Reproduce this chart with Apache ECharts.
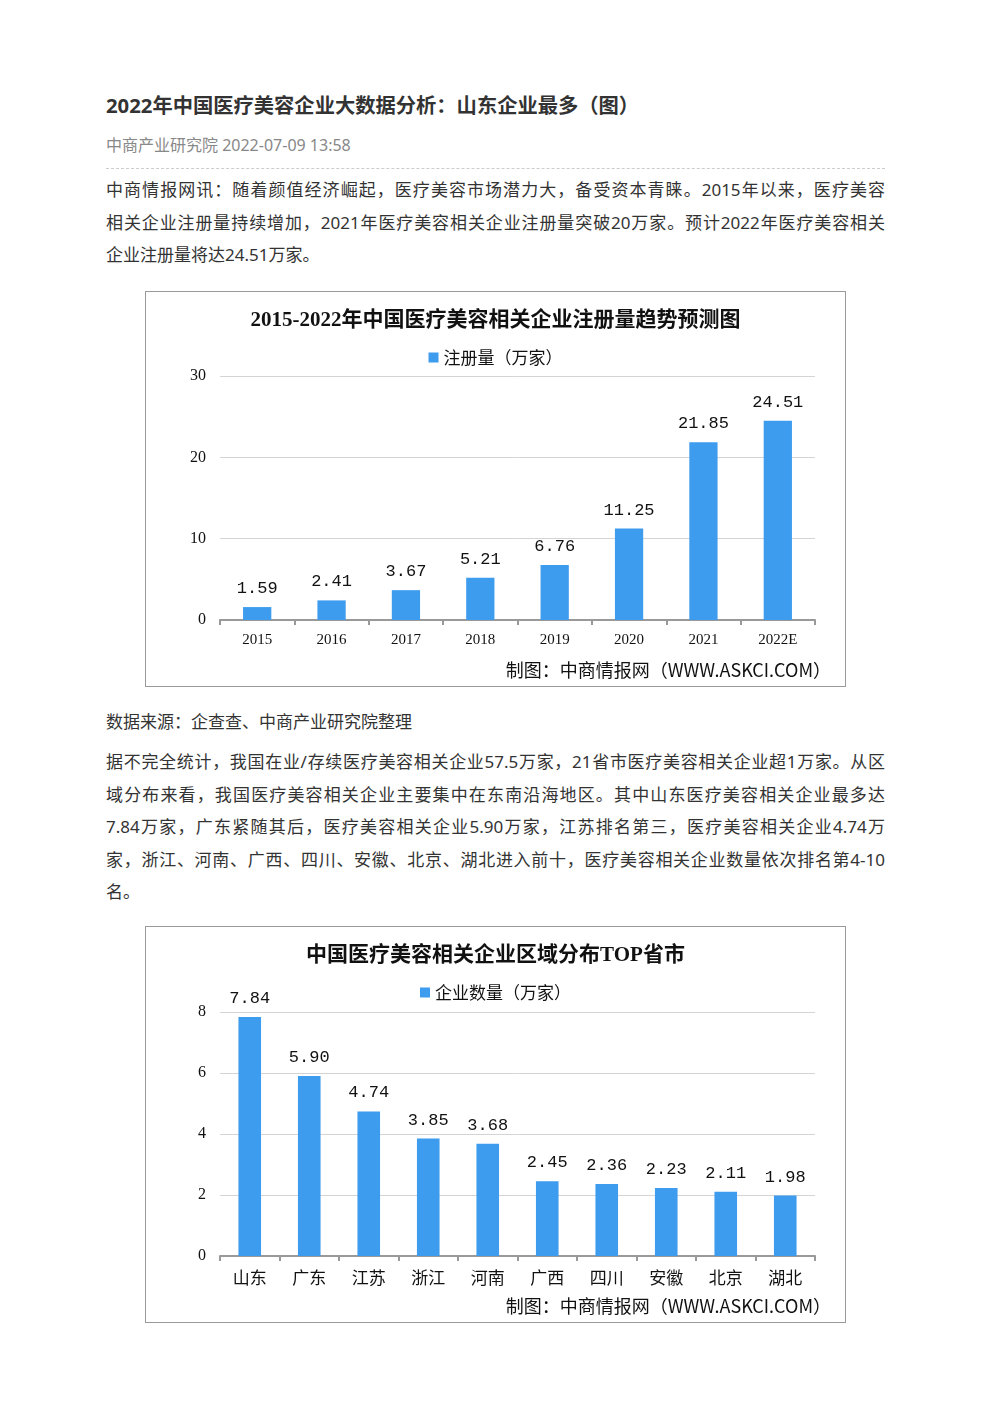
<!DOCTYPE html>
<html>
<head>
<meta charset="utf-8">
<title>2022年中国医疗美容企业大数据分析</title>
<script src="https://cdn.jsdelivr.net/npm/echarts@6/dist/echarts.min.js"></script>
<style>
  html, body { margin: 0; padding: 0; background: #fff; }
  body { width: 992px; height: 1403px; position: relative; font-family: "Noto Sans", "Noto Sans CJK SC", sans-serif; color: #333; }
  .abs { position: absolute; left: 106px; width: 779px; }
  h1 { margin: 0; font-size: 20.3px; line-height: 30px; font-weight: bold; color: #333; top: 90px; }
  .meta { top: 135px; font-size: 16px; line-height: 20px; color: #888; }
  .rule { top: 168px; height: 0; border-top: 1px dashed #ccc; }
  .para { font-size: 17px; line-height: 32.6px; margin: 0; }
  .para span { display: block; text-align: justify; text-align-last: justify; white-space: nowrap; }
  .para span.last { text-align-last: left; }
  .box { position: absolute; left: 145px; width: 699px; border: 1px solid #9a9a9a; }
</style>
</head>
<body>
<h1 class="abs">2022年中国医疗美容企业大数据分析：山东企业最多（图）</h1>
<div class="abs meta">中商产业研究院 2022-07-09 13:58</div>
<div class="abs rule"></div>
<p class="abs para" style="top:174px">
  <span>中商情报网讯：随着颜值经济崛起，医疗美容市场潜力大，备受资本青睐。2015年以来，医疗美容</span>
  <span>相关企业注册量持续增加，2021年医疗美容相关企业注册量突破20万家。预计2022年医疗美容相关</span>
  <span class="last">企业注册量将达24.51万家。</span>
</p>
<div class="box" id="chart1" style="top:291px;height:394px"></div>
<p class="abs para" style="top:706px"><span class="last">数据来源：企查查、中商产业研究院整理</span></p>
<p class="abs para" style="top:746px">
  <span>据不完全统计，我国在业/存续医疗美容相关企业57.5万家，21省市医疗美容相关企业超1万家。从区</span>
  <span>域分布来看，我国医疗美容相关企业主要集中在东南沿海地区。其中山东医疗美容相关企业最多达</span>
  <span>7.84万家，广东紧随其后，医疗美容相关企业5.90万家，江苏排名第三，医疗美容相关企业4.74万</span>
  <span>家，浙江、河南、广西、四川、安徽、北京、湖北进入前十，医疗美容相关企业数量依次排名第4-10</span>
  <span class="last">名。</span>
</p>
<div class="box" id="chart2" style="top:926px;height:395px"></div>

<script>
// 图1：注册量趋势
var years = ['2015', '2016', '2017', '2018', '2019', '2020', '2021', '2022E'];
var regCounts = [1.59, 2.41, 3.67, 5.21, 6.76, 11.25, 21.85, 24.51];
var yTicks1 = [0, 10, 20, 30];

// 图2：区域分布
var provinces = ['山东', '广东', '江苏', '浙江', '河南', '广西', '四川', '安徽', '北京', '湖北'];
var provCounts = [7.84, 5.90, 4.74, 3.85, 3.68, 2.45, 2.36, 2.23, 2.11, 1.98];
var yTicks2 = [0, 2, 4, 6, 8];

var barColor = '#3d9cee';
var serif = '"Liberation Serif", "Noto Sans CJK SC", serif';

function makeOption(title, legendName, cats, vals, ticks, xFont, xMargin, gridTop) {
	var step = ticks[1] - ticks[0];
	return {
		animation: false,
		title: {
			text: title,
			left: 'center',
			top: 13,
			textStyle: { fontFamily: serif, fontSize: 21, fontWeight: 'bold', color: '#111' }
		},
		legend: {
			data: [legendName],
			left: 'center',
			top: 52,
			itemWidth: 10,
			itemHeight: 10,
			icon: 'rect',
			itemGap: 4,
			textStyle: { fontFamily: '"Noto Sans CJK SC", sans-serif', fontSize: 17, color: '#111' }
		},
		grid: { left: 74, right: 30, top: gridTop, bottom: 66, containLabel: false },
		xAxis: {
			type: 'category',
			data: cats,
			axisLine: { lineStyle: { color: '#999', width: 2 } },
			axisTick: { show: true, alignWithLabel: false, length: 5, lineStyle: { color: '#999', width: 2 } },
			axisLabel: { color: '#111', fontFamily: serif, fontSize: xFont, margin: xMargin }
		},
		yAxis: {
			type: 'value',
			min: ticks[0],
			max: ticks[ticks.length - 1],
			interval: step,
			axisLine: { show: false },
			axisTick: { show: false },
			axisLabel: { color: '#111', fontFamily: serif, fontSize: 16, margin: 14 },
			splitLine: { lineStyle: { color: '#d4d4d4', width: 1 } }
		},
		series: [{
			name: legendName,
			type: 'bar',
			data: vals,
			barWidth: '38%',
			itemStyle: { color: barColor },
			label: {
				show: true,
				position: 'top',
				distance: 10,
				color: '#111',
				fontFamily: '"Liberation Mono", monospace',
				fontSize: 17,
				formatter: function (p) { return p.value.toFixed(2); }
			}
		}],
		graphic: [{
			type: 'text',
			right: 14,
			bottom: 7,
			style: {
				text: '制图：中商情报网（WWW.ASKCI.COM）',
				fontFamily: '"Noto Sans CJK SC", sans-serif',
				fontSize: 18,
				fill: '#111'
			}
		}]
	};
}

var chart1 = echarts.init(document.getElementById('chart1'));
chart1.setOption(makeOption('2015-2022年中国医疗美容相关企业注册量趋势预测图', '注册量（万家）',
	years, regCounts, yTicks1, 15, 13, 84));

var chart2 = echarts.init(document.getElementById('chart2'));
chart2.setOption(makeOption('中国医疗美容相关企业区域分布TOP省市', '企业数量（万家）',
	provinces, provCounts, yTicks2, 17, 15, 85));
</script>
</body>
</html>
